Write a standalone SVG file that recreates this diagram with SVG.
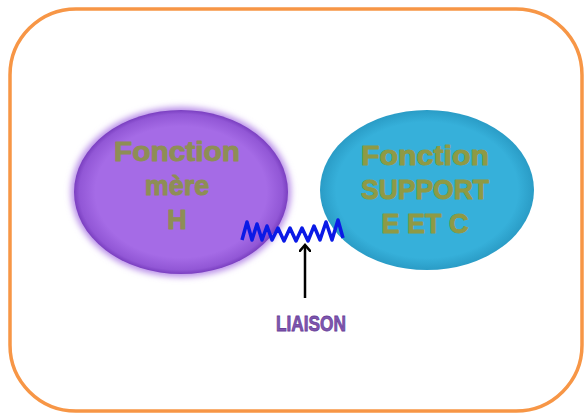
<svg xmlns="http://www.w3.org/2000/svg" width="585" height="414" viewBox="0 0 585 414">
<style>
.lbl{font-family:"Liberation Sans",Arial,sans-serif;font-weight:bold;text-anchor:middle;font-size:27px;stroke-width:1;stroke-linejoin:round}
</style>
<defs>
<radialGradient id="gp" cx="50%" cy="50%" r="50%">
<stop offset="0.8" stop-color="#A56BE6"/>
<stop offset="0.95" stop-color="#9257D6"/>
<stop offset="1" stop-color="#7A3FC0"/>
</radialGradient>
<radialGradient id="gb" cx="50%" cy="50%" r="50%">
<stop offset="0.85" stop-color="#36B0DA"/>
<stop offset="1" stop-color="#2A9CC6"/>
</radialGradient>
<filter id="blur" x="-10%" y="-10%" width="120%" height="120%"><feGaussianBlur stdDeviation="3"/></filter>
<marker id="arr" markerWidth="12" markerHeight="12" refX="6" refY="6" orient="auto" markerUnits="userSpaceOnUse">
<path d="M0,0 L7,6 L0,12" fill="none" stroke="#000" stroke-width="2.5"/>
</marker>
</defs>
<rect x="10" y="9" width="572" height="402" rx="66" ry="66" fill="#fff" stroke="#F79646" stroke-width="3.5"/>
<g id="mere">
<ellipse cx="181" cy="192" rx="110" ry="85" fill="#B88DE8" filter="url(#blur)"/>
<ellipse cx="181" cy="192" rx="107" ry="82" fill="url(#gp)"/>
<text class="lbl" fill="#8E8E55" stroke="#8E8E55"><tspan x="177" y="161" textLength="126" lengthAdjust="spacingAndGlyphs">Fonction</tspan><tspan x="177" y="195">mère</tspan><tspan x="177" y="229">H</tspan></text>
</g>
<g id="support">
<ellipse cx="427" cy="190" rx="107" ry="80" fill="url(#gb)"/>
<text class="lbl" fill="#8E9A45" stroke="#8E9A45"><tspan x="425" y="165" textLength="128" lengthAdjust="spacingAndGlyphs">Fonction</tspan><tspan x="425" y="199" textLength="128" lengthAdjust="spacingAndGlyphs">SUPPORT</tspan><tspan x="425" y="233">E ET C</tspan></text>
</g>
<g id="liaison">
<text x="311" y="331" font-family="'Liberation Sans Narrow','Liberation Sans',Arial,sans-serif" font-weight="bold" font-size="22" fill="#7E56B0" stroke="#6A4298" stroke-width="0.8" text-anchor="middle" textLength="70" lengthAdjust="spacingAndGlyphs">LIAISON</text>
</g>
<g id="connectors">
<polyline points="242,240 247,222 252,240 257,224 262,240 267,226 272,240 278,228 284,241 290,228 296,241 302,228 308,241 314,226 320,240 326,222 332,240 338,220 343,238" fill="none" stroke="#0A1AE6" stroke-width="3.5" stroke-linejoin="round"/>
<line x1="305" y1="298" x2="305" y2="246" stroke="#000" stroke-width="2.5" marker-end="url(#arr)"/>
</g>
</svg>
